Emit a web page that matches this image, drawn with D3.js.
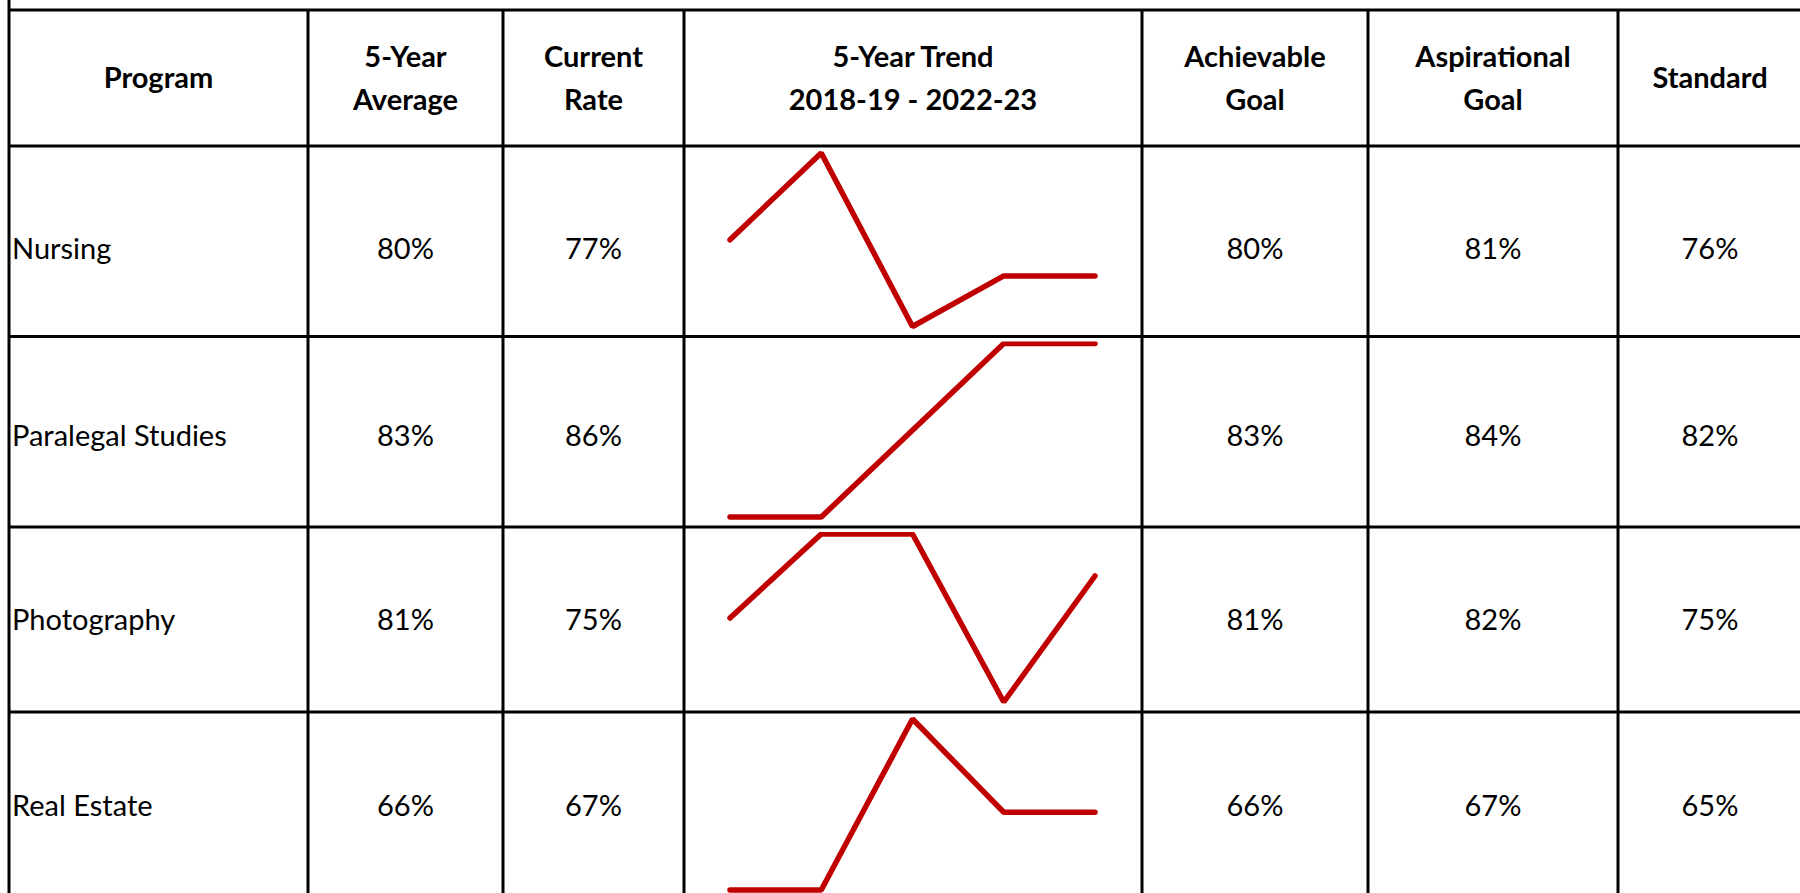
<!DOCTYPE html>
<html>
<head>
<meta charset="utf-8">
<script src="https://cdn.jsdelivr.net/npm/d3@7"></script>
<style>
    html, body { margin: 0; padding: 0; background: #fff; }
    svg { display: block; }
    text { font-family: "Gill Sans MT", "Lato", sans-serif; fill: #000; }
</style>
</head>
<body>
<svg id="chart" width="1800" height="893"></svg>
<script>
// table content
var headers = [
    ["Program"],
    ["5-Year", "Average"],
    ["Current", "Rate"],
    ["5-Year Trend", "2018-19 - 2022-23"],
    ["Achievable", "Goal"],
    ["Aspirational", "Goal"],
    ["Standard"]
];
var programs = ["Nursing", "Paralegal Studies", "Photography", "Real Estate"];
var fiveYearAverage = [80, 83, 81, 66];
var currentRate = [77, 86, 75, 67];
var achievableGoal = [80, 83, 81, 66];
var aspirationalGoal = [81, 84, 82, 67];
var standard = [76, 82, 75, 65];

// yearly rates behind the sparklines
var trendYears = ["2018-19", "2019-20", "2020-21", "2021-22", "2022-23"];
var nursingTrend = [82, 94, 70, 77, 77];
var paralegalTrend = [80, 80, 83, 86, 86];
var photographyTrend = [80, 84, 84, 76, 82];
var realEstateTrend = [62, 62, 73, 67, 67];

(function () {
    this.App || (this.App = {});

    App.table = {
        config: {},

        init: function (svg_id) {
            var app = this;
            app.config.svg = d3.select(svg_id);
            // cell edges of the grid
            app.config.cols = [9, 308, 503, 684, 1142, 1368, 1618, 1802];
            app.config.rows = [10, 146, 336.5, 527, 712, 900];
            // the first two rows sit a bit low in their cells
            app.config.textNudge = [8, 4, 0, 0];
            app.config.fontSize = 29;
            app.config.lineGap = 43;
            app.config.red = "#c00000";
        },

        colCenter: function (i) {
            var c = this.config.cols;
            return (c[i] + c[i + 1]) / 2;
        },

        rowCenter: function (i) {
            var r = this.config.rows;
            return (r[i] + r[i + 1]) / 2;
        },

        draw: function () {
            var app = this;
            var svg = app.config.svg;
            var cols = app.config.cols, rows = app.config.rows;
            var defs = svg.append("defs");

            // header
            var head = svg.append("g").attr("class", "header");
            headers.forEach(function (lines, i) {
                var t = head.append("text")
                    .attr("text-anchor", "middle")
                    .attr("font-weight", "bold")
                    .attr("font-size", app.config.fontSize)
                    .attr("x", app.colCenter(i));
                var y0 = app.rowCenter(0) - (lines.length - 1) * app.config.lineGap / 2;
                lines.forEach(function (s, j) {
                    t.append("tspan")
                        .attr("x", app.colCenter(i))
                        .attr("y", y0 + j * app.config.lineGap)
                        .attr("dy", "0.35em")
                        .text(s);
                });
            });

            // body rows
            var valueCols = [
                {col: 1, data: fiveYearAverage},
                {col: 2, data: currentRate},
                {col: 4, data: achievableGoal},
                {col: 5, data: aspirationalGoal},
                {col: 6, data: standard}
            ];
            var trends = [nursingTrend, paralegalTrend, photographyTrend, realEstateTrend];

            var body = svg.append("g").attr("class", "body");
            programs.forEach(function (name, r) {
                var cy = app.rowCenter(r + 1) + app.config.textNudge[r];

                body.append("text")
                    .attr("x", cols[0] + 3)
                    .attr("y", cy)
                    .attr("dy", "0.35em")
                    .attr("font-size", app.config.fontSize)
                    .text(name);

                valueCols.forEach(function (vc) {
                    body.append("text")
                        .attr("x", app.colCenter(vc.col))
                        .attr("y", cy)
                        .attr("dy", "0.35em")
                        .attr("text-anchor", "middle")
                        .attr("font-size", app.config.fontSize)
                        .text(vc.data[r] + "%");
                });

                // sparkline, clipped to the inside of its cell
                var top = rows[r + 1], bottom = rows[r + 2];
                defs.append("clipPath")
                    .attr("id", "spark-clip-" + r)
                    .append("rect")
                    .attr("x", cols[3])
                    .attr("y", top + 5)
                    .attr("width", cols[4] - cols[3])
                    .attr("height", bottom - top - 7);

                var x = d3.scaleLinear()
                    .domain([0, trendYears.length - 1])
                    .range([cols[3] + 46, cols[4] - 47]);
                var y = d3.scaleLinear()
                    .domain(d3.extent(trends[r]))
                    .range([bottom - 10, top + 7]);
                var line = d3.line()
                    .x(function (d, i) { return x(i); })
                    .y(function (d) { return y(d); });

                body.append("path")
                    .datum(trends[r])
                    .attr("clip-path", "url(#spark-clip-" + r + ")")
                    .attr("d", line)
                    .attr("fill", "none")
                    .attr("stroke", app.config.red)
                    .attr("stroke-width", 5.5)
                    .attr("stroke-linecap", "round")
                    .attr("stroke-linejoin", "bevel");
            });

            // grid on top
            var grid = svg.append("g").attr("class", "grid")
                .attr("stroke", "#000")
                .attr("stroke-width", 3);

            grid.selectAll("line.h")
                .data(rows)
                .enter().append("line")
                .attr("class", "h")
                .attr("x1", cols[0])
                .attr("x2", 1800)
                .attr("y1", function (d) { return d; })
                .attr("y2", function (d) { return d; });

            grid.selectAll("line.v")
                .data(cols)
                .enter().append("line")
                .attr("class", "v")
                .attr("x1", function (d) { return d; })
                .attr("x2", function (d) { return d; })
                .attr("y1", function (d, i) { return i === 0 ? 0 : rows[0]; })
                .attr("y2", 893);
        }
    };

}).call(this);

App.table.init("#chart");
App.table.draw();
</script>
</body>
</html>
